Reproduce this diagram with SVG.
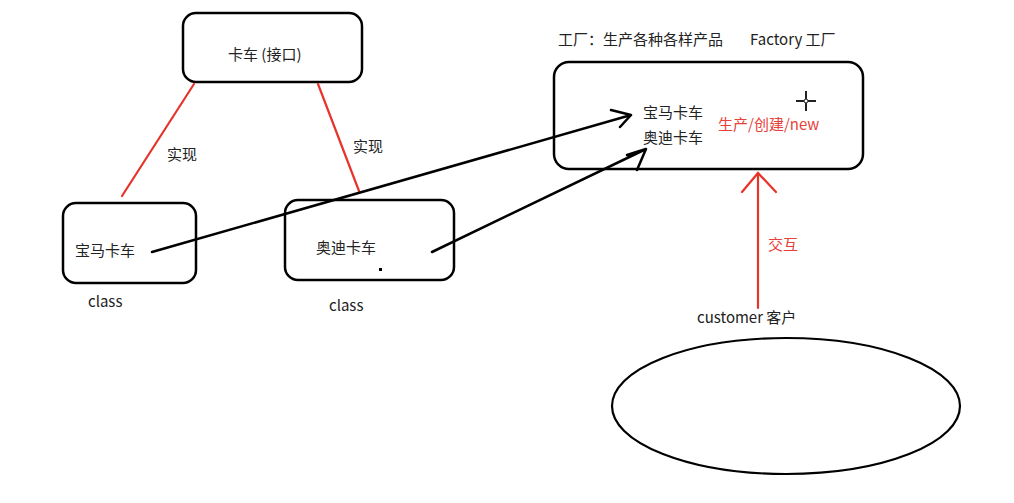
<svg xmlns="http://www.w3.org/2000/svg" width="1014" height="503" viewBox="0 0 1014 503">
<style>
.box{fill:#fff;stroke:#000;stroke-width:2.5}
.t{font-family:"Noto Sans CJK SC","Microsoft YaHei",sans-serif;font-size:15px;fill:#222}
.r{fill:#e8413a}
.red{stroke:#e8332a;stroke-width:2.2;fill:none;stroke-linecap:round}
.blk{stroke:#000;stroke-width:2.5;fill:none;stroke-linecap:round;stroke-linejoin:round}
</style>
<rect width="1014" height="503" fill="#fff"/>
<g id="interface"><rect class="box" x="183" y="13" width="179" height="69" rx="13"/><text class="t" x="228" y="60">卡车 (接口)</text></g>
<g id="bmw"><rect class="box" x="63" y="203" width="133" height="80" rx="13"/><text class="t" x="75" y="256">宝马卡车</text><text class="t" x="88" y="307">class</text></g>
<g id="audi"><rect class="box" x="285" y="200" width="169" height="80" rx="13"/><text class="t" x="316" y="253">奥迪卡车</text><rect x="379" y="268" width="3" height="3" fill="#000"/><text class="t" x="329" y="311">class</text></g>
<g id="factory"><text class="t" x="558" y="45">工厂：生产各种各样产品</text><text class="t" x="750" y="45">Factory 工厂</text><rect class="box" x="554" y="62" width="309" height="107" rx="15"/><text class="t" x="643" y="118">宝马卡车</text><text class="t" x="643" y="143">奥迪卡车</text><text class="t r" x="718" y="130">生产/创建/new</text>
<g stroke="#222" stroke-width="2"><line x1="806" y1="91" x2="806" y2="111"/><line x1="796" y1="101" x2="816" y2="101"/></g><circle cx="806" cy="101" r="2" fill="#fff" stroke="#222" stroke-width="1"/></g>
<g id="customer"><text class="t" x="697" y="323">customer 客户</text><ellipse cx="786" cy="406" rx="174" ry="68" fill="none" stroke="#000" stroke-width="2.2"/></g>
<g id="connectors">
<line class="red" x1="194" y1="84" x2="122" y2="196"/>
<line class="red" x1="318" y1="84" x2="359" y2="191"/>
<text class="t" x="167" y="160">实现</text>
<text class="t" x="353" y="152">实现</text>
<path class="blk" d="M152 252 L631 115 M611 110 L631 115 L620 127"/>
<path class="blk" d="M432 252 L646 149 M627 155 L646 149 L637 170"/>
<path class="red" d="M758 308 L758 173 M742 192 L758 173 L776 192"/>
<text class="t r" x="768" y="250">交互</text>
</g>
</svg>
